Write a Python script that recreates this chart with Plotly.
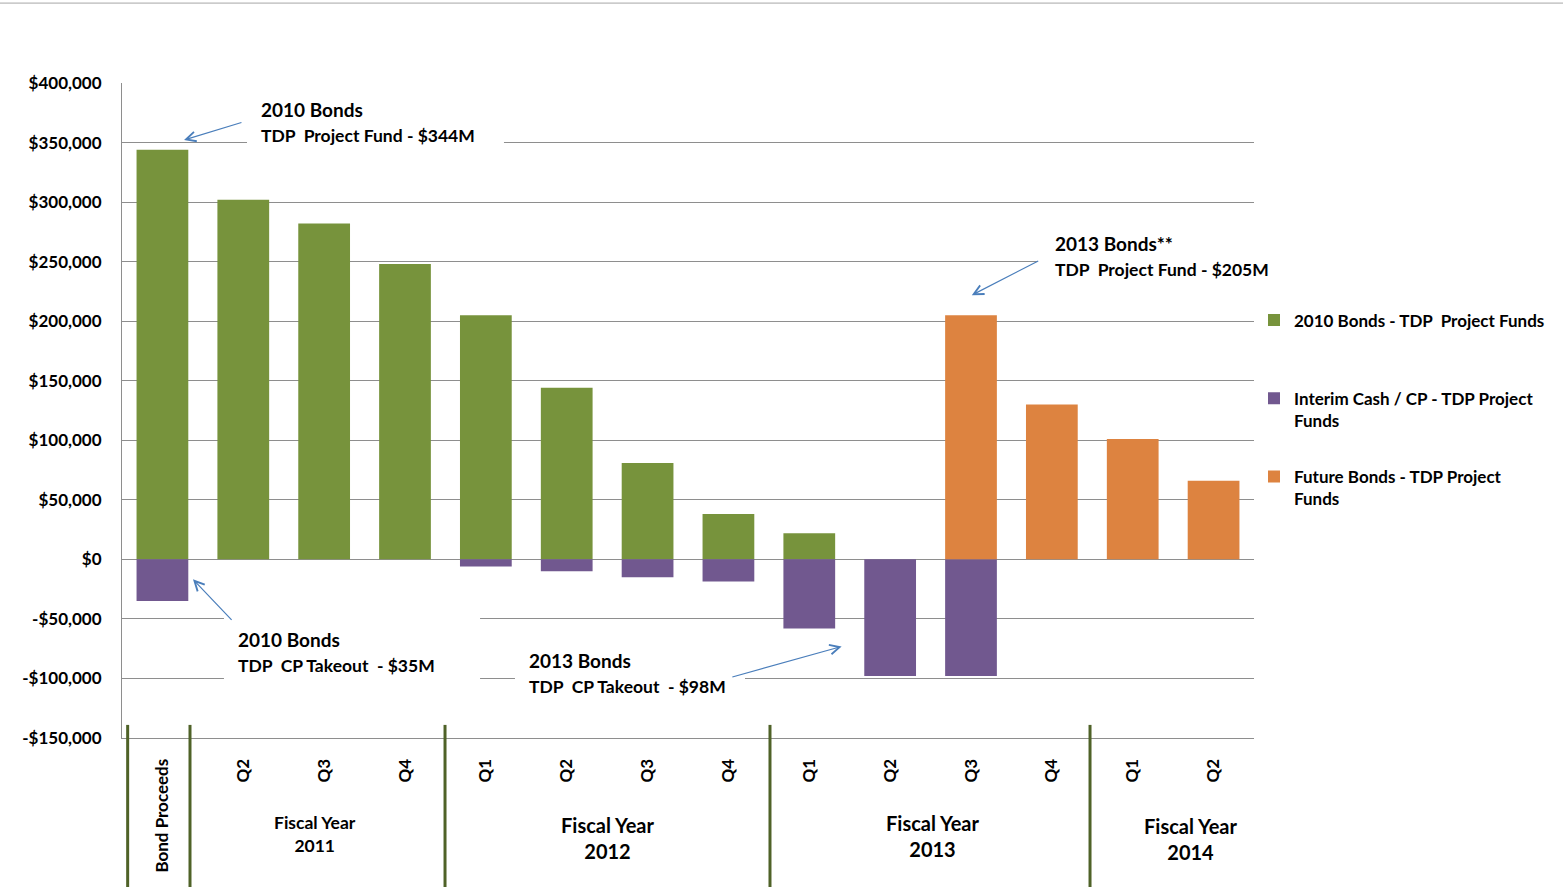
import plotly.graph_objects as go

# ---------------- data ----------------
period_labels = ["Bond Proceeds", "Q2", "Q3", "Q4", "Q1", "Q2", "Q3", "Q4",
                 "Q1", "Q2", "Q3", "Q4", "Q1", "Q2"]
bonds_2010 = [344000, 302000, 282000, 248000, 205000, 144000, 81000, 38000,
              22000, None, None, None, None, None]
interim_cash = [-35000, None, None, None, -6000, -10000, -15000, -18500,
                -58000, -98000, -98000, None, None, None]
future_bonds = [None, None, None, None, None, None, None, None,
                None, None, 205000, 130000, 101000, 66000]
series_names = ["2010 Bonds - TDP\u00a0 Project Funds<br>\u00a0",
                "Interim Cash / CP - TDP Project<br>Funds",
                "Future Bonds - TDP Project<br>Funds"]
y_tick_values = [400000, 350000, 300000, 250000, 200000, 150000, 100000,
                 50000, 0, -50000, -100000, -150000]
y_tick_labels = ["$400,000", "$350,000", "$300,000", "$250,000", "$200,000",
                 "$150,000", "$100,000", "$50,000", "$0", "-$50,000",
                 "-$100,000", "-$150,000"]
fiscal_year_labels = ["Fiscal Year<br>2011", "Fiscal Year<br>2012",
                      "Fiscal Year<br>2013", "Fiscal Year<br>2014"]

x = list(range(len(period_labels)))

GREEN = "#77933C"
PURPLE = "#71588F"
ORANGE = "#DD8340"
GRID = "#8E8E8E"
ARROW = "#4A7EBB"
SEP = "#4F6228"
FONT = "Lato"

fig = go.Figure()
for vals, name, col, grp in [(bonds_2010, series_names[0], GREEN, "a"),
                             (interim_cash, series_names[1], PURPLE, "b"),
                             (future_bonds, series_names[2], ORANGE, "c")]:
    fig.add_trace(go.Bar(x=x, y=vals, name=name, marker_color=col,
                         marker_line_width=0, legendgroup=grp))

fig.update_layout(
    width=1563, height=887,
    margin=dict(l=122, r=309, t=83, b=149),
    paper_bgcolor="white", plot_bgcolor="white",
    barmode="relative", bargap=0.36,
    font=dict(family=FONT, size=15, color="black", weight="bold"),
    showlegend=True,
    legend=dict(x=1.0, xanchor="left", y=0.665, yanchor="top",
                traceorder="grouped", tracegroupgap=31,
                font=dict(family=FONT, size=17, color="black", weight="bold"),
                bgcolor="rgba(0,0,0,0)", valign="top"),
    xaxis=dict(range=[-0.5, 13.5], tickmode="array", tickvals=x,
               ticktext=period_labels, tickangle=-90, showgrid=False,
               zeroline=False, showline=True, linecolor=GRID, linewidth=1,
               ticks="", ticklabelstandoff=13,
               tickfont=dict(family=FONT, size=17, color="black", weight="bold")),
    yaxis=dict(range=[-150000, 400000], tickmode="array",
               tickvals=y_tick_values, ticktext=y_tick_labels,
               showgrid=True, gridcolor=GRID, gridwidth=1, zeroline=False,
               showline=True, linecolor=GRID, linewidth=1, ticks="",
               ticklabelstandoff=16,
               tickfont=dict(family=FONT, size=17, color="black", weight="bold")),
)

# white boxes behind callout text hiding gridlines
for x0, x1, y0, y1 in [(1.046, 4.224, 340000, 390000),
                       (10.816, 13.5, 234000, 276000),
                       (0.761, 3.928, -110000, -44500),
                       (4.36, 7.205, -118500, -68000)]:
    fig.add_shape(type="rect", xref="x", yref="y", x0=x0, x1=x1, y0=y0, y1=y1,
                  fillcolor="white", line_width=0, layer="between")

# callout texts
callouts = [
    (1.195, 378150, "2010 Bonds", 19),
    (1.195, 356300, "TDP\u00a0 Project Fund - $344M", 17.5),
    (11.015, 265550, "2013 Bonds**", 19),
    (11.015, 243700, "TDP\u00a0 Project Fund - $205M", 17.5),
    (0.91, -67230, "2010 Bonds", 19),
    (0.91, -89080, "TDP\u00a0 CP Takeout\u00a0 - $35M", 17.5),
    (4.51, -84870, "2013 Bonds", 19),
    (4.51, -106720, "TDP\u00a0 CP Takeout\u00a0 - $98M", 17.5),
]
for ax_, ay_, txt, sz in callouts:
    fig.add_annotation(x=ax_, y=ay_, xref="x", yref="y", text=txt,
                       showarrow=False, xanchor="left", yanchor="middle",
                       font=dict(family=FONT, size=sz, color="black", weight="bold"))

# arrows (tip, tail)
for tx, ty, sx, sy in [(0.267, 352100, 0.996, 367200),
                       (10.01, 221850, 10.85, 251260),
                       (0.378, -16800, 0.873, -52100),
                       (8.40, -73100, 7.03, -99160)]:
    fig.add_annotation(x=tx, y=ty, ax=sx, ay=sy, xref="x", yref="y",
                       axref="x", ayref="y", text="", showarrow=True,
                       arrowhead=5, arrowsize=1.6, arrowwidth=1.2,
                       arrowcolor=ARROW, standoff=0)

# fiscal-year separator lines
for sx in [-0.43, 0.341, 3.495, 7.514, 11.472]:
    fig.add_shape(type="line", xref="x", yref="paper", x0=sx, x1=sx,
                  y0=0.02, y1=-0.25, line=dict(color=SEP, width=3))

# fiscal-year labels
for fx, fy, lab, sz in [(1.887, -0.1473, fiscal_year_labels[0], 17.5),
                        (5.511, -0.1527, fiscal_year_labels[1], 20),
                        (9.53, -0.1496, fiscal_year_labels[2], 20),
                        (12.72, -0.154, fiscal_year_labels[3], 20)]:
    fig.add_annotation(x=fx, y=fy, xref="x", yref="paper", text=lab,
                       showarrow=False, xanchor="center", yanchor="middle",
                       font=dict(family=FONT, size=sz, color="black", weight="bold"))

# thin top rule
fig.add_shape(type="line", xref="paper", yref="paper", x0=-0.11, x1=1.28,
              y0=1.122, y1=1.122, line=dict(color="#A6A6A6", width=1))

fig.write_html("out.html")
